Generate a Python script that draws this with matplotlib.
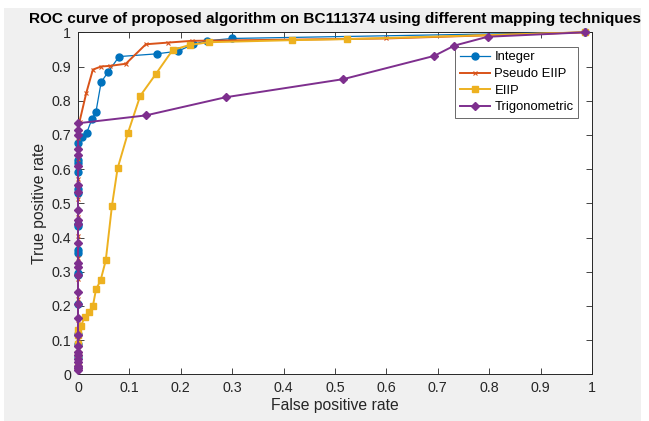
import matplotlib
matplotlib.use("Agg")
import matplotlib.pyplot as plt
from matplotlib.patches import Rectangle

# ---- data ----
int_fpr = [0, 0, 0, 0, 0, 0, 0, 0, 0, 0, 0, 0, 0, 0, 0, 0, 0,
           0.008, 0.017, 0.027, 0.035, 0.045, 0.059, 0.080, 0.153, 0.195, 0.224, 0.25, 0.30, 0.987]
int_tpr = [0.02, 0.05, 0.09, 0.117, 0.206, 0.29, 0.297, 0.356, 0.363, 0.434, 0.44, 0.531, 0.541,
           0.592, 0.617, 0.627, 0.675,
           0.693, 0.706, 0.746, 0.768, 0.854, 0.885, 0.929, 0.937, 0.945, 0.965, 0.975, 0.982, 1.0]

pse_fpr = [0, 0, 0, 0, 0, 0, 0, 0, 0, 0, 0, 0, 0,
           0.003, 0.016, 0.029, 0.045, 0.063, 0.093, 0.132, 0.176, 0.221, 0.60, 0.987]
pse_tpr = [0.02, 0.05, 0.107, 0.16, 0.22, 0.28, 0.339, 0.404, 0.46, 0.512, 0.57, 0.63, 0.69,
           0.739, 0.822, 0.891, 0.90, 0.902, 0.908, 0.965, 0.970, 0.975, 0.982, 1.0]

eiip_fpr = [0, 0, 0, 0, 0, 0.006, 0.013, 0.021, 0.029, 0.035, 0.044, 0.054, 0.066,
            0.077, 0.097, 0.121, 0.151, 0.184, 0.217, 0.255, 0.417, 0.524, 0.987]
eiip_tpr = [0.02, 0.06, 0.09, 0.115, 0.13, 0.142, 0.168, 0.182, 0.20, 0.248, 0.275, 0.333, 0.492,
            0.602, 0.705, 0.814, 0.877, 0.948, 0.963, 0.971, 0.977, 0.980, 1.0]

tri_fpr = [0] * 27 + [0.132, 0.287, 0.516, 0.693, 0.732, 0.797, 0.987]
tri_tpr = [0.012, 0.018, 0.025, 0.035, 0.045, 0.055, 0.066, 0.083, 0.115, 0.164, 0.207, 0.242,
           0.29, 0.314, 0.326, 0.385, 0.44, 0.451, 0.48, 0.534, 0.553, 0.61, 0.64, 0.658, 0.70,
           0.715, 0.734,
           0.757, 0.81, 0.863, 0.931, 0.961, 0.987, 1.0]

series_names = ["Integer", "Pseudo EIIP", "EIIP", "Trigonometric"]
title_text = "ROC curve of proposed algorithm on BC111374 using different mapping techniques"
xlabel_text = "False positive rate"
ylabel_text = "True positive rate"
ticks = [i / 10 for i in range(11)]
tick_labels = ["0", "0.1", "0.2", "0.3", "0.4", "0.5", "0.6", "0.7", "0.8", "0.9", "1"]

plt.rcParams['font.family'] = ['Liberation Sans', 'DejaVu Sans']

W, H = 649, 421
fig = plt.figure(figsize=(W / 100, H / 100), dpi=100, facecolor='white')
# MATLAB-like grey figure area
fig.patches.append(Rectangle((4 / W, 0), (641 - 4) / W, (H - 8) / H, transform=fig.transFigure,
                             facecolor='#f0f0f0', edgecolor='none', zorder=-10))

ax = fig.add_axes([78 / W, (H - 374.3) / H, 514 / W, 342 / H])
ax.set_facecolor('white')

c_blue, c_orange, c_yellow, c_purple = '#0072BD', '#D95319', '#EDB120', '#7E2F8E'

ax.plot(int_fpr, int_tpr, color=c_blue, lw=0.9, marker='o', ms=5, mec=c_blue, mfc=c_blue,
        label=series_names[0], clip_on=False, zorder=3)
ax.plot(pse_fpr, pse_tpr, color=c_orange, lw=1.4, marker='x', ms=3.5, mew=0.8,
        label=series_names[1], clip_on=False, zorder=4)
ax.plot(eiip_fpr, eiip_tpr, color=c_yellow, lw=1.4, marker='s', ms=4.2, mec=c_yellow, mfc=c_yellow,
        label=series_names[2], clip_on=False, zorder=5)
ax.plot(tri_fpr, tri_tpr, color=c_purple, lw=1.4, marker='D', ms=4.5, mec=c_purple, mfc=c_purple,
        label=series_names[3], clip_on=False, zorder=6)

ax.set_xlim(0, 1)
ax.set_ylim(0, 1)
ax.set_xticks(ticks)
ax.set_xticklabels(tick_labels)
ax.set_yticks(ticks)
ax.set_yticklabels(tick_labels)
ax.tick_params(direction='in', top=True, right=True, length=4.5, width=0.6,
               color='#262626', labelcolor='#262626', labelsize=10.3, pad=5)
for s in ax.spines.values():
    s.set_color('#262626')
    s.set_linewidth(0.7)

ax.set_xlabel(xlabel_text, fontsize=11.3, color='#262626', labelpad=2)
ax.set_ylabel(ylabel_text, fontsize=11.3, color='#262626', labelpad=3)
ax.set_title(title_text, fontsize=11.1, fontweight='bold', color='black', pad=7)

leg = ax.legend(loc='upper right', bbox_to_anchor=(0.973, 0.958), borderaxespad=0,
                fontsize=9.4, frameon=True, fancybox=False, edgecolor='#262626',
                handlelength=2.3, borderpad=0.35, labelspacing=0.35, handletextpad=0.35)
leg.get_frame().set_linewidth(0.6)

fig.savefig('out.png', dpi=100, facecolor=fig.get_facecolor())
